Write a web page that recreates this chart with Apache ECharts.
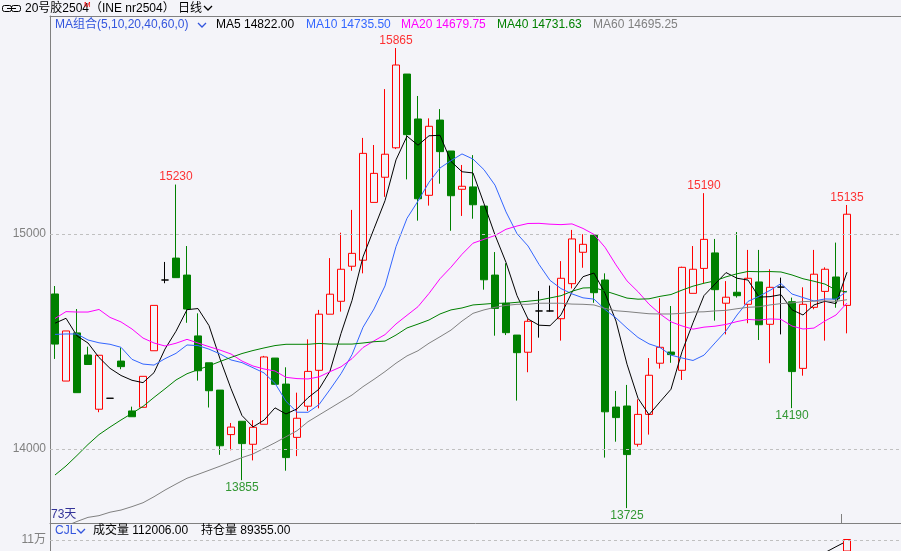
<!DOCTYPE html>
<html><head><meta charset="utf-8">
<script src="https://cdn.jsdelivr.net/npm/echarts@6/dist/echarts.min.js"></script>
<style>html,body{margin:0;padding:0;background:#f4f4f9;}#c{width:901px;height:551px;}</style>
</head><body><div id="c"></div>
<script>
// ---- data ----
const opens  = [14721,14316,14540,14437,14185,14236,14409,14177,14194,14457,14786,14888,14809,14526,14401,14274,14067,14129,14022,14115,14423,14302,14054,14199,14366,14627,14687,14850,14878,15147,15264,15401,15744,15535,15180,15530,15386,15208,15219,15130,14809,14678,14530,14450,14642,14642,14606,14769,14915,14995,14786,14195,14200,14022,14161,14399,14451,14366,14724,14840,14912,14678,14729,14673,14777,14580,14753,14685,14375,14659,14733,14800,14668];
const closes = [14488,14549,14262,14393,14436,14236,14383,14150,14338,14668,14786,14797,14651,14364,14271,14015,14102,14025,14101,14428,14301,13960,14143,14361,14627,14720,14836,14910,15375,15282,15371,15786,15462,15164,15501,15383,15178,15222,15136,14787,14654,14541,14448,14594,14642,14642,14794,14977,14952,14727,14173,14146,13974,14161,14343,14473,14439,14845,14836,14975,14741,14706,14713,14794,14578,14752,14753,14360,14673,14813,14836,14698,15092];
const lows   = [14419,14316,14262,14393,14171,14236,14371,14150,14194,14457,14771,14797,14587,14318,14193,13973,13994,13855,13947,14115,14301,13899,13967,14177,14189,14627,14639,14829,14817,15147,15173,15395,15254,15062,15132,15234,15015,15084,15071,14741,14527,14530,14225,14357,14518,14639,14504,14747,14843,14680,13960,14034,13725,14011,14067,14374,14401,14321,14724,14771,14597,14533,14704,14585,14507,14399,14533,14190,14341,14650,14504,14657,14538];
const highs  = [14758,14549,14651,14476,14436,14236,14471,14197,14338,14668,14870,15230,14944,14631,14401,14274,14121,14129,14134,14433,14423,14380,14262,14510,14647,14888,15006,15112,15447,15414,15674,15865,15744,15642,15538,15581,15386,15321,15367,15130,14916,14864,14530,14605,14735,14760,14874,15019,14999,14995,14817,14270,14298,14231,14423,14701,14665,14848,14944,15190,14977,14781,15009,14926,14926,14836,14797,14704,14752,14926,14845,14960,15135];

const ma5  = [14585,14608,14526,14493,14425.6,14375.2,14342,14319.6,14308.6,14355,14465,14547.8,14648,14653.2,14573.8,14419.6,14280.6,14155.4,14102.8,14134.2,14191.4,14163,14186.6,14238.6,14278.4,14362.2,14537.4,14690.8,14893.6,15024.6,15154.8,15344.8,15455.2,15413,15456.8,15459.2,15337.6,15289.6,15284,15141.2,14995.4,14868,14713.2,14604.8,14575.8,14573.4,14624,14729.8,14801.4,14818.4,14724.6,14595,14394.4,14236.2,14159.4,14219.4,14278,14452.2,14587.2,14713.6,14767.2,14820.6,14794.2,14785.8,14706.4,14708.6,14718,14647.4,14623.2,14670.2,14687,14676,14822.4];
const ma10 = [14533,14535,14535,14507,14494,14487,14473,14417,14395,14390.3,14420.1,14444.9,14483.8,14480.9,14464.4,14442.3,14414.2,14401.7,14378,14354,14305.5,14221.8,14171,14170.7,14206.3,14276.8,14350.2,14438.7,14566.1,14651.5,14758.5,14941.1,15073,15153.3,15240.7,15307,15341.2,15372.4,15348.5,15299,15227.3,15102.8,15001.4,14944.4,14858.5,14784.4,14746,14721.5,14703.1,14697.1,14649,14609.5,14562.1,14518.8,14488.9,14472,14436.5,14423.3,14411.7,14436.5,14493.3,14549.3,14623.2,14686.5,14710,14737.9,14769.3,14720.8,14704.5,14688.3,14697.8,14697,14734.9];
const ma20 = [14607,14639,14637,14637,14649,14612,14591,14558,14516,14493,14479,14492,14510,14493,14476,14460,14442,14409,14386,14372.2,14362.8,14333.4,14327.4,14325.8,14335.4,14359.6,14382.2,14420.2,14472,14502.8,14532,14581.5,14622,14662,14723.5,14791.9,14845.7,14905.6,14957.3,14975.3,14992.9,15022,15037.2,15048.9,15049.6,15045.7,15043.6,15047,15025.8,14998,14938.2,14856.2,14781.8,14731.6,14673.7,14628.2,14591.3,14572.4,14557.4,14566.8,14571.2,14579.4,14592.7,14602.7,14599.5,14605,14602.9,14572,14558.1,14562.4,14595.6,14623.2,14679];
const ma40 = [13879,13921,13970,14021,14067,14102,14135,14166,14198,14240,14280,14321,14350,14369,14387,14407,14426,14444,14458,14470,14481,14487,14487,14487,14491,14488,14488,14488,14493,14499,14502,14530,14563,14581,14600,14628,14647,14656,14670,14673.7,14677.9,14677.7,14682.3,14687.3,14692.5,14702.6,14712.9,14733.6,14748.9,14750.4,14735.1,14718.8,14701.9,14696.8,14698.6,14710,14718.5,14739,14757.4,14771,14782,14800.7,14814.9,14825.8,14824.5,14825.3,14823.3,14809.5,14791.9,14780.2,14766.9,14739.7,14730.4];
const ma60 = [13623,13642,13663,13682,13690,13706,13716,13732,13750,13778,13809,13837,13864,13882,13901,13920,13940,13960,13977,14003,14029,14057,14085,14127,14158,14189,14220,14251,14290,14324,14360,14399,14433,14457,14492,14522,14553,14595,14631,14647,14659,14668,14673,14673,14678,14678,14678,14674,14673,14670,14654,14643,14639,14634,14629,14628,14628,14631,14637,14638.1,14642.3,14644.9,14652.4,14659.1,14661.5,14670.1,14676.2,14679.7,14685.3,14687.7,14688.6,14686.9,14694.3];

const highMarks = [11, 31, 59, 72];
const lowMarks  = [17, 52, 67];
const yTicks = [14000, 15000];
const monthStartIdx = 72;

const maNames  = ['MA5', 'MA10', 'MA20', 'MA40', 'MA60'];
const maLast   = [14822.00, 14735.50, 14679.75, 14731.63, 14695.25];
const volume   = Array(72).fill(null).concat([112006]);
const volMA    = Array(70).fill(null).concat([84800, 96600, 108000]);
const volTicks = [110000];
const volTickLabels = ['11万'];
const lastVolume = 112006.00;
const lastOI = 89355.00;
const dayCount = closes.length;

// ---- layout / style ----
const BG = '#f4f4f9';
const Y_MIN = 13655.81, Y_MAX = 16013.95;
const V_MIN = 88000, V_MAX = 144000;
const maColors = ['#000000', '#3366ff', '#ff00ff', '#008000', '#808080'];
const maSeries = [ma5, ma10, ma20, ma40, ma60];
const FONT = '"Liberation Sans","Noto Sans CJK SC",sans-serif';
const UP = '#ff0000', DOWN = '#008000';

const cats = closes.map((_, i) => String(i + 1));
const candleData = opens.map((o, i) => [o, closes[i], lows[i], highs[i]]);

const chart = echarts.init(document.getElementById('c'), null, {renderer: 'canvas'});

const hiddenAxis = {axisLine: {show: false}, axisTick: {show: false}, axisLabel: {show: false}, splitLine: {show: false}};
const frameLine = {show: true, onZero: false, lineStyle: {color: '#808080', width: 1}};

function txt(x, y, text, fill, size) {
  return {type: 'text', x: x, y: y, silent: true, z: 100,
    style: {text: text, fill: fill, font: (size || 12) + 'px ' + FONT, verticalAlign: 'middle', align: 'left'}};
}
function chevron(x, y, color) {
  return {type: 'polyline', silent: true, z: 100,
    shape: {points: [[x, y], [x + 4, y + 4], [x + 8, y]]},
    style: {stroke: color, lineWidth: 1.3, fill: null}};
}

const legendX = [216, 306, 401, 497, 593];
const graphics = [
  // link icon
  {type: 'rect', silent: true, shape: {x: 2.5, y: 5.5, width: 9, height: 6, r: 2}, style: {stroke: '#000', fill: null, lineWidth: 1}},
  {type: 'rect', silent: true, shape: {x: 11.5, y: 5.5, width: 9, height: 6, r: 2}, style: {stroke: '#000', fill: null, lineWidth: 1}},
  {type: 'line', silent: true, shape: {x1: 7, y1: 8.5, x2: 16, y2: 8.5}, style: {stroke: '#000', lineWidth: 1}},
  txt(25, 9, '20号胶2504', '#000', 12),
  txt(84, 5, 'M', '#ff0000', 8),
  txt(90, 9, '（INE nr2504）', '#000', 12),
  txt(178, 9, '日线', '#000', 12),
  chevron(204, 6, '#000'),
  txt(55, 25, 'MA组合(5,10,20,40,60,0)', '#3355dd', 12),
  chevron(198, 23, '#3355dd'),
  txt(51, 515, dayCount + '天', '#333399', 12),
  txt(55, 531, 'CJL', '#3355dd', 12),
  chevron(77, 529, '#3355dd'),
  txt(93, 531, '成交量 ' + lastVolume.toFixed(2), '#000', 12),
  txt(201, 531, '持仓量 ' + lastOI.toFixed(2), '#000', 12)
];
maNames.forEach((n, k) => graphics.push(txt(legendX[k], 25, n + ' ' + maLast[k].toFixed(2), maColors[k], 12)));

const series = [
  {
    type: 'candlestick', xAxisIndex: 0, yAxisIndex: 0, data: candleData, barWidth: 8,
    itemStyle: {color: BG, color0: DOWN, borderColor: UP, borderColor0: DOWN, borderColorDoji: '#000000', borderWidth: 1},
    z: 2
  }
];
maSeries.forEach((d, k) => series.push({
  type: 'line', name: maNames[k], xAxisIndex: 0, yAxisIndex: 0, data: d, symbol: 'none', showSymbol: false,
  smooth: false, clip: true, lineStyle: {color: maColors[k], width: 1}, z: 3, silent: true
}));
series.push({
  type: 'scatter', xAxisIndex: 0, yAxisIndex: 0, symbolSize: 1, itemStyle: {color: 'rgba(0,0,0,0)'}, z: 4,
  data: highMarks.map(i => [i, highs[i]]),
  label: {show: true, position: 'top', distance: 1, color: UP, fontSize: 12, fontFamily: FONT, formatter: p => String(p.value[1])}
});
series.push({
  type: 'scatter', xAxisIndex: 0, yAxisIndex: 0, symbolSize: 1, itemStyle: {color: 'rgba(0,0,0,0)'}, z: 4,
  data: lowMarks.map(i => [i, lows[i]]),
  label: {show: true, position: 'bottom', distance: 1, color: DOWN, fontSize: 12, fontFamily: FONT, formatter: p => String(p.value[1])}
});
series.push({
  type: 'line', xAxisIndex: 1, yAxisIndex: 1, data: [], silent: true,
  markLine: {
    silent: true, symbol: ['none', 'none'], animation: false,
    lineStyle: {color: '#c0c0c0', width: 1, type: [3, 3]},
    label: {position: 'start', distance: 4, color: '#808080', fontSize: 12, fontFamily: FONT, formatter: p => String(p.value)},
    data: yTicks.map(v => ({yAxis: v}))
  }
});
series.push({
  type: 'bar', xAxisIndex: 3, yAxisIndex: 2, data: volume, barWidth: 8,
  itemStyle: {color: BG, borderColor: UP, borderWidth: 1}, z: 3, silent: true
});
series.push({
  type: 'line', xAxisIndex: 3, yAxisIndex: 2, data: volMA, symbol: 'none', showSymbol: false,
  lineStyle: {color: '#000', width: 1}, z: 2, silent: true, clip: true
});
series.push({
  type: 'line', xAxisIndex: 4, yAxisIndex: 3, data: [], silent: true,
  markLine: {
    silent: true, symbol: ['none', 'none'], animation: false,
    lineStyle: {color: '#c0c0c0', width: 1, type: [3, 3]},
    label: {position: 'start', distance: 4, color: '#808080', fontSize: 12, fontFamily: FONT, formatter: p => volTickLabels[volTicks.indexOf(p.value)]},
    data: volTicks.map(v => ({yAxis: v}))
  }
});

chart.setOption({
  backgroundColor: BG,
  animation: false,
  grid: [
    {left: 49.5, top: 16, width: 803, height: 507},
    {left: 50, top: 16, right: 0, height: 507},
    {left: 49.5, top: 523, width: 803, bottom: 0},
    {left: 50, top: 523, right: 0, bottom: 0}
  ],
  xAxis: [
    Object.assign({type: 'category', gridIndex: 0, data: cats, boundaryGap: true}, hiddenAxis),
    Object.assign({type: 'value', gridIndex: 1, min: 0, max: 1, position: 'top'}, hiddenAxis, {axisLine: frameLine}),
    Object.assign({type: 'value', gridIndex: 1, min: 0, max: 1, position: 'bottom'}, hiddenAxis, {axisLine: frameLine}),
    Object.assign({type: 'category', gridIndex: 2, data: cats, boundaryGap: true}, hiddenAxis),
    Object.assign({type: 'value', gridIndex: 3, min: 0, max: 1}, hiddenAxis),
    // index axis aligned with the candle bands; one tick marks the boundary where a new month starts
    {type: 'value', gridIndex: 0, min: -0.5, max: closes.length - 0.5, position: 'bottom',
     axisLine: {show: false}, axisLabel: {show: false}, splitLine: {show: false},
     axisTick: {show: true, inside: true, length: 9, customValues: [monthStartIdx - 0.5], lineStyle: {color: '#808080'}}}
  ],
  yAxis: [
    Object.assign({type: 'value', gridIndex: 0, min: Y_MIN, max: Y_MAX, scale: true}, hiddenAxis),
    Object.assign({type: 'value', gridIndex: 1, min: Y_MIN, max: Y_MAX, scale: true}, hiddenAxis, {axisLine: frameLine}),
    Object.assign({type: 'value', gridIndex: 2, min: V_MIN, max: V_MAX, scale: true}, hiddenAxis),
    Object.assign({type: 'value', gridIndex: 3, min: V_MIN, max: V_MAX, scale: true}, hiddenAxis, {axisLine: frameLine})
  ],
  graphic: graphics,
  series: series
});
</script>
</body></html>
